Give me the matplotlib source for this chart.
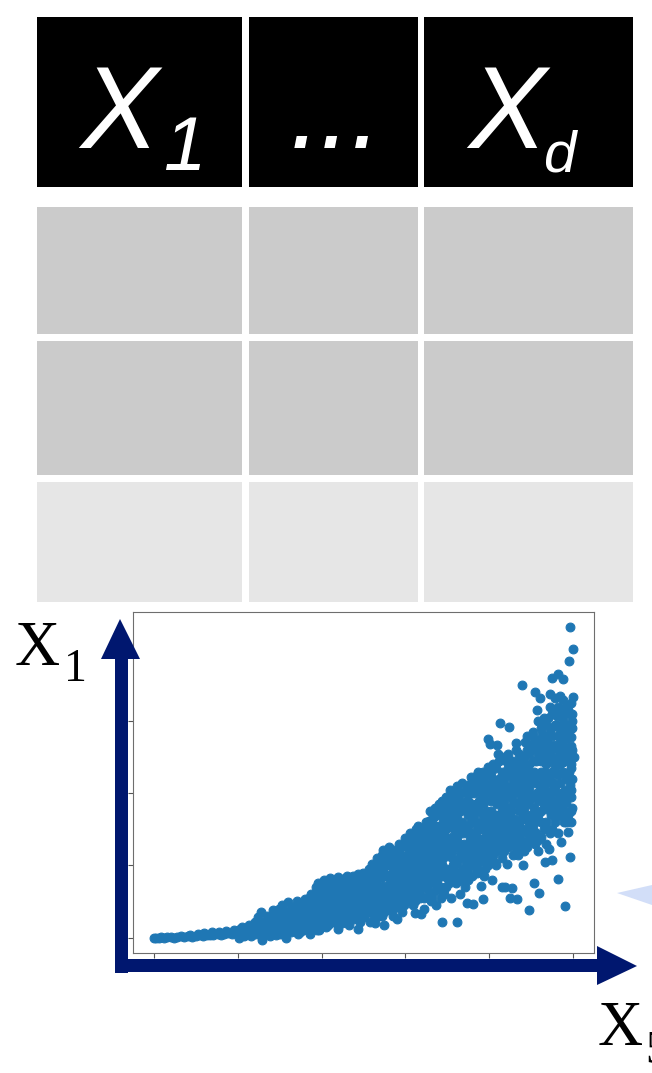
"""Data table header with a scatter of X1 against X5 underneath."""

import matplotlib
matplotlib.use("Agg")
import matplotlib.pyplot as plt
from matplotlib.patches import Rectangle, Polygon

# ---- table ----
header_labels = ["X", "...", "X"]
header_subs = ["1", "", "d"]
row_colors = ["#000000", "#cbcbcb", "#cbcbcb", "#e6e6e6"]

# ---- scatter points (axis units: ticks at 0..5 / 0..4) ----
tail_x = [0.0, 0.03, 0.06, 0.09, 0.12, 0.16, 0.2, 0.24, 0.28, 0.32, 0.36, 0.41,
          0.45, 0.5, 0.54, 0.58, 0.63, 0.67, 0.71, 0.76, 0.8, 0.84, 0.88, 0.93,
          0.97, 1.01, 1.05, 1.1, 1.14, 1.18, 1.22, 1.27, 1.31, 1.35, 1.4, 1.44,
          1.48, 0.43, 0.52, 0.6, 0.69, 0.78, 0.86, 0.95, 1.03, 1.08, 1.16, 1.2,
          1.25, 1.29, 1.33, 1.38, 1.42, 1.46, 1.5]
tail_y = [0.0, 0.0, 0.0, 0.01, 0.0, 0.01, 0.01, 0.0, 0.01, 0.02, 0.01, 0.02,
          0.01, 0.02, 0.03, 0.02, 0.03, 0.04, 0.03, 0.05, 0.04, 0.05, 0.06, 0.05,
          0.07, 0.06, 0.08, 0.07, 0.09, 0.1, 0.08, 0.12, 0.1, 0.13, 0.12, 0.15,
          0.14, 0.04, 0.05, 0.06, 0.07, 0.08, 0.09, 0.1, 0.12, 0.02, 0.15, 0.05,
          0.19, 0.0, 0.2, 0.06, 0.24, 0.03, 0.22]

low_x = [1.02, 1.05, 1.08, 1.11, 1.13, 1.16, 1.19, 1.21, 1.23, 1.24,
         1.26, 1.28, 1.29, 1.31, 1.33, 1.35, 1.37, 1.39, 1.4, 1.42, 1.44, 1.46,
         1.47, 1.49, 1.5, 1.52, 1.53, 1.55, 1.57, 1.58, 1.6, 1.61, 1.63, 1.64,
         1.66, 1.68, 1.69, 1.71, 1.72, 1.74, 1.75, 1.77, 1.78, 1.8, 1.81, 1.83,
         1.84, 1.86, 1.87, 1.89, 1.9, 1.92, 1.93, 1.95, 1.96, 1.97, 1.99, 2.0,
         2.02, 2.03, 2.05, 2.06, 2.08, 2.09, 2.1, 2.12, 2.13, 2.15, 2.16, 2.18,
         2.19, 2.2, 2.22, 2.23, 2.25, 2.24, 2.27, 2.28, 2.3, 2.31, 2.33, 2.34,
         2.36, 2.37, 2.39, 2.4, 2.42, 2.43, 2.45, 2.46, 2.47, 2.49, 2.5, 2.44]
low_y = [0.0, 0.14, 0.04, 0.1, 0.17, 0.02, 0.12, 0.22, 0.07, 0.28,
         0.15, 0.35, -0.03, 0.22, 0.08, 0.3, 0.15, 0.02, 0.25, 0.38, 0.1, 0.3,
         0.18, 0.4, 0.05, 0.25, 0.45, 0.12, 0.35, 0.0, 0.49, 0.2, 0.3, 0.08,
         0.42, 0.15, 0.28, 0.5, 0.05, 0.36, 0.2, 0.45, 0.1, 0.54, 0.28, 0.18,
         0.4, 0.05, 0.6, 0.32, 0.14, 0.5, 0.7, 0.24, 0.76, 0.1, 0.42, 0.62,
         0.3, 0.8, 0.15, 0.52, 0.68, 0.38, 0.82, 0.22, 0.6, 0.46, 0.74, 0.3,
         0.12, 0.84, 0.55, 0.4, 0.68, 0.2, 0.5, 0.82, 0.3, 0.62, 0.18, 0.72,
         0.42, 0.86, 0.26, 0.55, 0.68, 0.35, 0.8, 0.22, 0.48, 0.9, 0.6, 0.12]

mid_x = [2.52, 2.53, 2.55, 2.56, 2.58, 2.59, 2.6, 2.62, 2.63, 2.65, 2.66, 2.68,
         2.69, 2.7, 2.72, 2.73, 2.74, 2.75, 2.71, 2.64, 2.77, 2.78, 2.8, 2.81,
         2.82, 2.84, 2.85, 2.87, 2.88, 2.89, 2.91, 2.92, 2.94, 2.95, 2.96, 2.98,
         2.99, 3.0, 2.9, 2.83, 3.02, 3.03, 3.05, 3.06, 3.07, 3.09, 3.1, 3.12,
         3.13, 3.14, 3.16, 3.17, 3.18, 3.2, 3.21, 3.22, 3.24, 3.25, 3.11, 3.19,
         3.26, 3.27, 3.29, 3.3, 3.31, 3.32, 3.34, 3.35, 3.36, 3.38, 3.39, 3.4,
         3.41, 3.43, 3.44, 3.45, 3.46, 3.48, 3.49, 3.5, 3.44, 3.42,
         2.86, 2.93, 2.97, 3.04, 3.08, 3.15, 3.23, 3.28, 3.33, 3.37, 3.42, 3.47,
         3.5, 3.44, 3.36, 3.26, 3.15, 3.05]
mid_y = [0.32, 0.75, 0.48, 0.95, 0.22, 0.62, 1.02, 0.4, 0.84, 0.55, 1.1, 0.3,
         0.7, 0.95, 0.45, 1.22, 0.6, 0.17, 0.82, 0.2, 0.38, 1.05, 0.72, 1.26,
         0.5, 0.88, 0.3, 1.15, 0.62, 0.95, 0.42, 1.3, 0.78, 1.05, 0.36, 0.58,
         1.38, 0.88, 0.25, 1.2, 0.5, 1.15, 0.72, 1.4, 0.95, 0.45, 1.25, 0.62,
         1.5, 0.85, 1.05, 0.55, 1.35, 0.75, 1.18, 0.4, 0.95, 1.6, 0.34, 0.32,
         0.68, 1.3, 1.76, 0.5, 1.05, 1.5, 0.85, 1.68, 0.45, 1.2, 0.72, 1.85,
         1.4, 0.95, 0.21, 1.58, 0.6, 1.95, 1.15, 0.82, 1.9, 0.55,
         0.82, 1.12, 0.7, 0.95, 1.2, 1.25, 1.4, 1.15, 1.35, 1.55, 1.2, 1.4,
         1.7, 1.0, 1.0, 0.9, 0.7, 1.1]

high_x = [3.52, 3.53, 3.54, 3.56, 3.57, 3.58, 3.6, 3.61, 3.62, 3.63, 3.65, 3.66,
          3.67, 3.68, 3.7, 3.71, 3.72, 3.74, 3.75, 3.73, 3.61,
          3.77, 3.78, 3.79, 3.8, 3.81, 3.82, 3.84, 3.85, 3.86, 3.87, 3.89, 3.9,
          3.91, 3.92, 3.93, 3.95, 3.96, 3.97, 3.98, 3.99, 4.0, 3.88, 3.94,
          4.01, 4.02, 4.03, 4.04, 4.05, 4.06, 4.07, 4.08, 4.09, 4.1, 4.11, 4.12,
          4.13, 4.14, 4.15, 4.16, 4.17, 4.18, 4.19, 4.2, 4.21, 4.22, 4.23, 4.24,
          4.25, 4.26, 4.27, 4.28, 4.29, 4.3, 4.31, 4.32, 4.33, 4.34, 4.35, 4.36,
          4.37, 4.38, 4.39, 4.4, 4.41, 4.42, 4.43, 4.44, 4.45, 4.46, 4.47, 4.48,
          4.49, 4.5,
          3.55, 3.6, 3.64, 3.69, 3.73, 3.76, 3.8, 3.83, 3.86, 3.9, 3.94, 3.97,
          4.0, 4.03, 4.06, 4.09, 4.12, 4.15, 4.18, 4.21, 4.24, 4.27, 4.3, 4.33,
          4.36, 4.4, 4.43, 4.46, 4.5, 3.98, 3.92]
high_y = [1.35, 2.05, 0.55, 1.7, 1.0, 1.5, 0.75, 2.1, 1.25, 1.85, 0.6, 1.55,
          0.95, 2.15, 1.3, 0.7, 1.75, 1.1, 2.0, 0.48, 0.21,
          1.4, 2.22, 0.85, 1.85, 0.47, 1.15, 2.05, 1.6, 0.95, 2.3, 1.3, 0.72,
          1.95, 0.53, 1.5, 2.15, 1.05, 1.75, 2.37, 2.76, 1.25, 1.75, 0.85,
          2.69, 1.9, 0.8, 1.55, 2.2, 1.05, 1.7, 1.0, 2.67, 1.35, 2.55, 2.0,
          2.97, 1.45, 0.7, 2.3, 1.2, 1.85, 0.7, 2.45, 1.02, 1.6, 2.92, 2.1,
          0.55, 1.75, 0.69, 2.35, 1.3, 2.0, 1.5, 2.6, 0.54, 1.15, 2.2, 1.85,
          1.45, 2.45, 3.5, 1.0, 2.1, 1.65, 2.71, 1.3, 2.35, 1.9, 0.38, 2.55,
          1.55, 2.2,
          1.2, 1.65, 2.0, 1.45, 1.9, 1.2, 1.6, 1.35, 1.8, 2.1, 1.25, 2.0,
          1.6, 2.35, 1.4, 1.85, 1.6, 2.1, 1.4, 2.25, 1.8, 2.05, 1.65, 2.3,
          1.6, 2.35, 1.85, 2.1, 1.7, 1.45, 1.7]

top_x = [4.51, 4.52, 4.53, 4.54, 4.55, 4.56, 4.57, 4.58, 4.59, 4.6, 4.61, 4.62,
         4.63, 4.64, 4.65, 4.66, 4.67, 4.68, 4.69, 4.7, 4.71, 4.72, 4.73, 4.74,
         4.75, 4.75, 4.76, 4.77, 4.78, 4.79, 4.8, 4.81, 4.82, 4.82, 4.83, 4.84,
         4.85, 4.86, 4.87, 4.88, 4.88, 4.89, 4.9, 4.9, 4.91, 4.92, 4.93, 4.94,
         4.95, 4.96, 4.96, 4.97, 4.98, 4.98, 4.99, 5.0, 5.0, 4.96, 5.01, 4.97,
         4.85, 4.92, 4.8, 4.7, 4.95, 4.9, 4.86, 4.76,
         4.53, 4.57, 4.6, 4.64, 4.68, 4.72, 4.74, 4.56]
top_y = [1.39, 2.85, 0.75, 1.8, 3.4, 2.45, 3.16, 1.2, 0.62, 2.1, 3.32, 1.6,
         2.82, 1.9, 2.6, 1.05, 2.3, 1.5, 2.75, 2.55, 1.23, 3.38, 2.0, 2.9,
         1.07, 3.6, 2.67, 1.7, 3.32, 2.35, 1.81, 3.07, 3.66, 0.81, 2.5, 1.95,
         3.1, 1.32, 2.75, 3.59, 2.43, 1.6, 0.44, 2.85, 2.2, 1.88, 2.57, 1.46,
         3.83, 2.11, 1.12, 2.78, 1.95, 2.4, 3.0, 4.0, 3.33, 4.31, 2.5, 1.6,
         2.7, 3.2, 2.95, 3.05, 2.3, 2.05, 2.9, 2.15,
         2.3, 2.0, 2.6, 2.2, 2.0, 2.45, 1.7, 1.45]

# extra points filling the dense core of the cloud, one column of y values per x
core_x = [1.55, 1.62, 1.7, 1.78, 1.85, 1.92, 1.98, 2.05, 2.12, 2.18, 2.26, 2.33,
          2.4, 2.47, 2.55, 2.62, 2.68, 2.75, 2.82, 2.88, 2.95, 3.02, 3.08, 3.15,
          3.22, 3.28, 3.35, 3.42, 3.48, 3.55, 3.62, 3.68, 3.75, 3.82, 3.88, 3.95,
          4.02, 4.08, 4.15, 4.22, 4.28, 4.35, 4.42, 4.48, 4.55, 4.62, 4.68, 4.75,
          4.82, 4.88, 4.94, 4.99,
          1.58, 1.66, 1.74, 1.82, 1.88, 1.95, 2.02, 2.08, 2.15, 2.22, 2.3, 2.36,
          2.44, 2.51, 2.58, 2.65, 2.72, 2.78, 2.85, 2.92, 2.98, 3.05, 3.12, 3.18,
          3.25, 3.32, 3.38, 3.45, 3.52, 3.58, 3.65, 3.72, 3.78, 3.85, 3.92, 3.98,
          4.05, 4.12, 4.18, 4.25, 4.32, 4.38, 4.45, 4.52, 4.58, 4.65, 4.72, 4.78,
          4.85, 4.91, 4.97]
core_y = [[0.05, 0.2, 0.32], [0.1, 0.25, 0.38], [0.12, 0.22, 0.4],
          [0.15, 0.32, 0.48], [0.12, 0.25, 0.45, 0.55], [0.2, 0.35, 0.6],
          [0.15, 0.3, 0.52, 0.7], [0.25, 0.4, 0.62, 0.75], [0.3, 0.45, 0.7],
          [0.2, 0.5, 0.62, 0.8], [0.28, 0.42, 0.6, 0.75], [0.35, 0.5, 0.82],
          [0.3, 0.45, 0.62, 0.78], [0.35, 0.58, 0.72, 0.85],
          [0.4, 0.58, 0.7, 0.85], [0.3, 0.5, 0.72, 0.95],
          [0.45, 0.62, 0.85, 1.05], [0.35, 0.52, 0.72, 0.9, 1.1],
          [0.45, 0.62, 0.8, 1.0, 1.15], [0.5, 0.72, 0.88, 1.05, 1.22],
          [0.5, 0.65, 0.9, 1.15, 1.25], [0.62, 0.8, 1.0, 1.25, 1.35],
          [0.55, 0.75, 0.88, 1.05, 1.35], [0.65, 0.95, 1.15, 1.4, 1.55],
          [0.55, 0.85, 1.05, 1.28, 1.5], [0.6, 0.8, 1.0, 1.25, 1.45, 1.62],
          [0.65, 0.95, 1.1, 1.4, 1.55, 1.8], [0.7, 0.85, 1.05, 1.3, 1.5, 1.7],
          [0.7, 0.95, 1.25, 1.5, 1.65, 1.85],
          [0.8, 0.95, 1.1, 1.4, 1.6, 1.85, 1.95], [0.9, 1.05, 1.4, 1.7, 1.95],
          [0.85, 1.1, 1.2, 1.6, 1.8, 2.0],
          [0.8, 0.95, 1.3, 1.5, 1.7, 1.9, 2.1],
          [1.0, 1.25, 1.45, 1.7, 2.0, 2.15], [1.05, 1.2, 1.5, 1.9, 2.2],
          [0.95, 1.15, 1.4, 1.6, 1.9, 2.25], [1.1, 1.3, 1.45, 1.75, 2.05, 2.3],
          [1.2, 1.5, 1.65, 2.1, 2.35], [1.1, 1.3, 1.55, 1.75, 1.95, 2.25],
          [1.25, 1.45, 1.7, 1.95, 2.35, 2.55], [1.15, 1.4, 1.6, 1.9, 2.2, 2.45],
          [1.3, 1.55, 1.75, 2.05, 2.35, 2.55], [1.2, 1.5, 1.75, 1.95, 2.2, 2.5],
          [1.35, 1.6, 1.85, 2.05, 2.4, 2.65], [1.3, 1.6, 1.95, 2.15, 2.6, 2.75],
          [1.4, 1.75, 1.95, 2.3, 2.45, 2.9],
          [1.3, 1.6, 1.85, 2.15, 2.4, 2.65, 2.95],
          [1.5, 1.85, 2.05, 2.3, 2.5, 2.8, 3.1],
          [1.45, 1.7, 2.0, 2.25, 2.6, 2.8, 3.2],
          [1.8, 2.0, 2.3, 2.55, 2.65, 3.0, 3.3],
          [1.7, 2.0, 2.45, 2.6, 2.85, 3.15], [1.8, 2.2, 2.6, 2.9, 3.1],
          [0.12, 0.28], [0.18, 0.32], [0.08, 0.28, 0.44], [0.22, 0.38, 0.5],
          [0.18, 0.35, 0.52], [0.1, 0.28, 0.45, 0.62], [0.2, 0.35, 0.55, 0.7],
          [0.18, 0.32, 0.5, 0.78], [0.22, 0.38, 0.58, 0.8],
          [0.25, 0.35, 0.48, 0.7], [0.22, 0.4, 0.55, 0.7, 0.85],
          [0.28, 0.45, 0.6, 0.78], [0.25, 0.4, 0.52, 0.7, 0.88],
          [0.28, 0.45, 0.65, 0.8], [0.35, 0.5, 0.65, 0.8, 0.92],
          [0.38, 0.6, 0.78, 0.9], [0.3, 0.55, 0.68, 0.95, 1.15],
          [0.45, 0.6, 0.85, 1.0, 1.2], [0.4, 0.55, 0.7, 0.95, 1.1],
          [0.55, 0.7, 0.85, 1.0, 1.2], [0.45, 0.72, 0.95, 1.1, 1.3],
          [0.55, 0.7, 0.85, 1.0, 1.2, 1.45], [0.5, 0.68, 0.8, 1.1, 1.3, 1.45],
          [0.6, 0.9, 1.0, 1.2, 1.45], [0.7, 0.85, 1.15, 1.35, 1.55],
          [0.55, 0.75, 0.9, 1.2, 1.35, 1.65], [0.8, 1.0, 1.25, 1.45, 1.75],
          [0.65, 0.9, 1.1, 1.45, 1.6, 1.8], [0.75, 0.9, 1.2, 1.55, 1.75, 1.9],
          [0.85, 1.0, 1.3, 1.55, 1.8, 2.0], [0.8, 1.15, 1.3, 1.5, 1.75, 1.9],
          [0.9, 1.0, 1.25, 1.55, 1.85, 2.05], [1.05, 1.2, 1.6, 1.8, 2.0, 2.15],
          [0.9, 1.1, 1.4, 1.55, 1.85, 2.25], [1.1, 1.35, 1.6, 1.85, 2.05, 2.3],
          [1.0, 1.2, 1.55, 1.7, 2.1, 2.25], [1.15, 1.35, 1.6, 1.95, 2.15, 2.4],
          [1.25, 1.45, 1.7, 1.9, 2.2, 2.45], [1.2, 1.5, 1.65, 2.0, 2.2, 2.5],
          [1.35, 1.55, 1.7, 2.0, 2.25, 2.45], [1.2, 1.45, 1.85, 2.1, 2.4, 2.7],
          [1.35, 1.65, 1.95, 2.3, 2.5], [1.25, 1.45, 1.65, 2.0, 2.3, 2.6, 2.8],
          [1.5, 1.7, 1.95, 2.2, 2.45, 2.7],
          [1.35, 1.7, 1.9, 2.25, 2.5, 2.7, 3.0],
          [1.5, 1.8, 2.05, 2.25, 2.5, 2.75, 3.05],
          [1.45, 1.75, 1.95, 2.2, 2.6, 2.85, 3.2],
          [1.6, 1.9, 2.1, 2.45, 2.65, 2.95, 3.15],
          [1.7, 1.85, 2.15, 2.4, 2.6, 2.85, 3.35],
          [1.6, 1.95, 2.25, 2.5, 2.75, 2.95, 3.1],
          [1.75, 2.05, 2.35, 2.65, 2.9, 3.25]]

W, H = 652, 1073
NAVY = "#00176f"

fig = plt.figure(figsize=(W / 100, H / 100), dpi=100)

# scatter panel
sc = fig.add_axes([133 / W, (H - 953) / H, (594 - 133) / W, (953 - 612) / H])
core_px = [x for x, ys in zip(core_x, core_y) for _ in ys]
core_py = [y for ys in core_y for y in ys]
for xs, ys in [(tail_x, tail_y), (low_x, low_y), (mid_x, mid_y),
               (high_x, high_y), (top_x, top_y), (core_px, core_py)]:
    sc.scatter(xs, ys, s=40, color="#1f77b4", edgecolors="face", linewidths=0.8)
sc.set_xlim(-0.25, 5.25)
sc.set_ylim(-0.215, 4.515)
sc.set_xticks(range(6))
sc.set_yticks(range(5))
sc.tick_params(length=3.6, width=0.8, color="#555555",
               labelbottom=False, labelleft=False)
for sp in sc.spines.values():
    sp.set_color("#6e6e6e")
    sp.set_linewidth(0.8)

# overlay in pixel coordinates: table, arrows, labels
ax = fig.add_axes([0, 0, 1, 1])
ax.set_xlim(0, W)
ax.set_ylim(H, 0)
ax.axis("off")
ax.patch.set_visible(False)

col_edges = [(37, 242), (249, 418), (424, 633)]
row_edges = [(17, 187), (207, 334), (341, 475), (482, 602)]
for (y0, y1), c in zip(row_edges, row_colors):
    for x0, x1 in col_edges:
        ax.add_patch(Rectangle((x0, y0), x1 - x0, y1 - y0, facecolor=c,
                               edgecolor="none"))

hdr_font = dict(family="Liberation Sans", style="italic", color="white")
ax.text(80, 148, header_labels[0], fontsize=84, va="baseline", ha="left", **hdr_font)
ax.text(163, 170, header_subs[0], fontsize=55, va="baseline", ha="left", **hdr_font)
ax.text(336, 148, header_labels[1], fontsize=80, va="baseline", ha="center", **hdr_font)
ax.text(468, 148, header_labels[2], fontsize=84, va="baseline", ha="left", **hdr_font)
ax.text(543, 172, header_subs[2], fontsize=42, va="baseline", ha="left", **hdr_font)

# arrows
ax.add_patch(Polygon([(115, 973), (115, 659), (101, 659), (120, 619),
                      (140, 659), (128, 659), (128, 973)],
                     closed=True, facecolor=NAVY, edgecolor="none"))
ax.add_patch(Polygon([(115, 959), (597, 959), (597, 946), (637, 966),
                      (597, 985), (597, 972), (115, 972)],
                     closed=True, facecolor=NAVY, edgecolor="none"))
ax.add_patch(Polygon([(617, 893), (652, 885), (652, 905)], closed=True,
                     facecolor="#d2def8", edgecolor="none"))

lab_font = dict(family="Liberation Serif", color="black")
ax.text(15, 665, "X", fontsize=45, va="baseline", ha="left", **lab_font)
ax.text(64, 681, "1", fontsize=33, va="baseline", ha="left", **lab_font)
ax.text(598, 1045, "X", fontsize=45, va="baseline", ha="left", **lab_font)
ax.text(645, 1063, "5", fontsize=33, va="baseline", ha="left", **lab_font)

fig.savefig("out.png", dpi=100)
